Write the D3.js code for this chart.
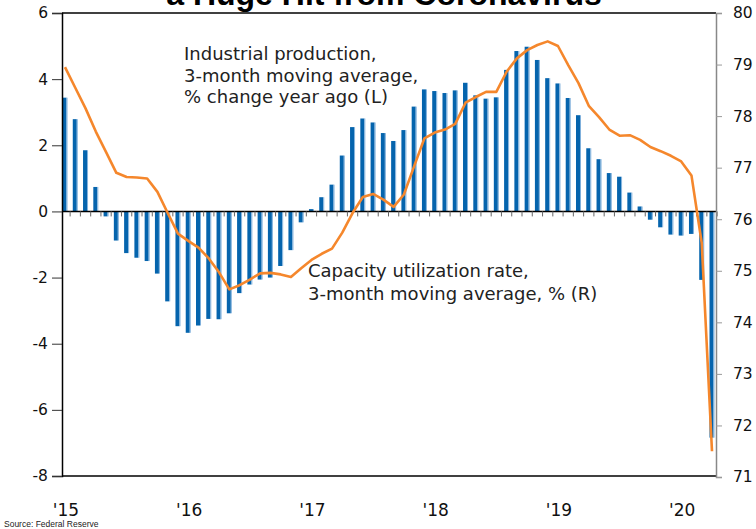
<!DOCTYPE html>
<html lang="en">
<head>
<meta charset="utf-8">
<title>Industrial production and capacity utilization</title>
<script src="https://d3js.org/d3.v7.min.js"></script>
<style>
  body { margin: 0; background: #fff; }
  svg { display: block; font-family: "DejaVu Sans", Verdana, sans-serif; }
</style>
</head>
<body>
<svg id="chart" width="756" height="529"></svg>
<script>
  // monthly, Jan 2015 - Apr 2020
  const months = d3.timeMonth.range(new Date(2015, 0, 1), new Date(2020, 4, 1));

  // industrial production, 3-month moving average, % change year ago (left axis)
  const ipChange = [
    3.44, 2.79, 1.85, 0.74, -0.15, -0.88, -1.26, -1.40, -1.50, -1.88, -2.72, -3.47,
    -3.67, -3.45, -3.25, -3.26, -3.08, -2.47, -2.21, -2.06, -2.00, -1.65, -1.17, -0.33,
    0.07, 0.43, 0.81, 1.69, 2.55, 2.81, 2.69, 2.37, 2.13, 2.46, 3.17, 3.69,
    3.64, 3.58, 3.66, 3.89, 3.51, 3.41, 3.45, 4.28, 4.85, 4.98, 4.58, 4.03,
    3.87, 3.43, 2.91, 1.91, 1.58, 1.16, 1.05, 0.57, 0.15, -0.25, -0.48, -0.70,
    -0.73, -0.68, -2.07, -6.84
  ];

  // capacity utilization rate, 3-month moving average, % (right axis)
  const capUtil = [
    78.95, 78.55, 78.15, 77.70, 77.30, 76.90, 76.82, 76.81, 76.79, 76.53, 76.12, 75.72,
    75.58, 75.45, 75.24, 74.97, 74.64, 74.72, 74.83, 74.95, 74.96, 74.93, 74.88, 75.05,
    75.21, 75.33, 75.43, 75.74, 76.12, 76.43, 76.49, 76.38, 76.24, 76.48, 77.03, 77.57,
    77.68, 77.74, 77.85, 78.26, 78.37, 78.47, 78.47, 78.86, 79.12, 79.28, 79.38, 79.45,
    79.36, 78.99, 78.64, 78.20, 77.98, 77.74, 77.62, 77.63, 77.54, 77.40, 77.32, 77.23,
    77.12, 76.85, 75.54, 71.50
  ];

  const leftTicks = [-8, -6, -4, -2, 0, 2, 4, 6];
  const rightTicks = [71, 72, 73, 74, 75, 76, 77, 78, 79, 80];
  const yearLabels = ["'15", "'16", "'17", "'18", "'19", "'20"];

  const svg = d3.select("#chart");
  const plot = { left: 62, right: 716, top: 13, bottom: 476 };

  const x = d3.scalePoint().domain(months).range([65, 712]);
  const yL = d3.scaleLinear().domain([-8, 6]).range([plot.bottom, plot.top]);
  const yR = d3.scaleLinear().domain([71, 80]).range([plot.bottom + 1, plot.top]);
  const step = x.step();

  const blue = "#0564ad";
  const orange = "#f5872c";

  // title, mostly cut off at the top
  svg.append("text")
    .attr("x", 384).attr("y", 5)
    .attr("text-anchor", "middle")
    .style("font-family", "'Liberation Sans', Arial, sans-serif")
    .style("font-weight", "bold")
    .style("font-size", "32px")
    .text("a Huge Hit from Coronavirus");

  // bars
  const bars = svg.append("g");
  bars.selectAll("rect.bar")
    .data(ipChange)
    .join("rect")
    .attr("class", "bar")
    .attr("x", (d, i) => x(months[i]) - 2.5)
    .attr("width", 4)
    .attr("y", d => Math.min(yL(d), yL(0)))
    .attr("height", d => Math.abs(yL(d) - yL(0)))
    .attr("fill", blue);
  bars.selectAll("rect.edge")
    .data(ipChange)
    .join("rect")
    .attr("class", "edge")
    .attr("x", (d, i) => x(months[i]) + 1.5)
    .attr("width", 1)
    .attr("y", d => Math.min(yL(d), yL(0)))
    .attr("height", d => Math.abs(yL(d) - yL(0)))
    .attr("fill", "#7fb0dc");

  // zero line with month ticks
  svg.append("line")
    .attr("x1", plot.left).attr("x2", plot.right)
    .attr("y1", yL(0)).attr("y2", yL(0))
    .attr("stroke", "#000").attr("stroke-width", 1.5);
  svg.append("g").selectAll("line")
    .data(months)
    .join("line")
    .attr("x1", d => x(d) + step / 2).attr("x2", d => x(d) + step / 2)
    .attr("y1", yL(0)).attr("y2", yL(0) + 5)
    .attr("stroke", "#666").attr("stroke-width", 1);

  // capacity utilization line
  const line = d3.line()
    .x((d, i) => x(months[i]))
    .y(d => yR(d));
  svg.append("path")
    .datum(capUtil)
    .attr("d", line)
    .attr("fill", "none")
    .attr("stroke", orange)
    .attr("stroke-width", 2.6)
    .attr("stroke-linejoin", "round");

  // frame
  svg.append("line")
    .attr("x1", plot.left).attr("x2", plot.right)
    .attr("y1", plot.top).attr("y2", plot.top)
    .attr("stroke", "#000").attr("stroke-width", 1.5);
  svg.append("line")
    .attr("x1", plot.left).attr("x2", plot.right)
    .attr("y1", plot.bottom).attr("y2", plot.bottom)
    .attr("stroke", "#000").attr("stroke-width", 1.5);

  // left axis (plain hyphen minus, like the original)
  const axL = svg.append("g")
    .attr("transform", `translate(${plot.left},0)`)
    .call(d3.axisLeft(yL).tickValues(leftTicks).tickSize(10).tickPadding(4).tickFormat(d => String(d)));
  axL.select(".domain").attr("stroke", "#000").attr("stroke-width", 1.5);
  axL.selectAll(".tick line").attr("stroke", "#333");
  axL.selectAll("text")
    .style("font-family", "'DejaVu Sans', Verdana, sans-serif")
    .style("font-size", "15.5px").attr("fill", "#111");

  // right axis
  const axR = svg.append("g")
    .attr("transform", `translate(${plot.right},0)`)
    .call(d3.axisRight(yR).tickValues(rightTicks).tickSize(6).tickPadding(11));
  axR.select(".domain").attr("stroke", "#888").attr("stroke-width", 1.5);
  axR.selectAll(".tick line").attr("stroke", "#999");
  axR.selectAll("text")
    .style("font-family", "'DejaVu Sans', Verdana, sans-serif")
    .style("font-size", "15.5px").attr("fill", "#111");

  // year labels under January of each year
  const januaries = months.filter(d => d.getMonth() === 0);
  svg.append("g").selectAll("text")
    .data(januaries)
    .join("text")
    .attr("x", d => x(d) + 1)
    .attr("y", 516)
    .attr("text-anchor", "middle")
    .style("font-size", "17px")
    .attr("fill", "#111")
    .text((d, i) => yearLabels[i]);

  // annotations
  const noteIP = ["Industrial production,", "3-month moving average,", "% change year ago (L)"];
  svg.append("text")
    .attr("x", 184).attr("y", 60)
    .style("font-size", "18px").attr("fill", "#222")
    .selectAll("tspan")
    .data(noteIP)
    .join("tspan")
    .attr("x", 184)
    .attr("dy", (d, i) => i === 0 ? 0 : 21.7)
    .text(d => d);

  const noteCU = ["Capacity utilization rate,", "3-month moving average, % (R)"];
  svg.append("text")
    .attr("x", 308).attr("y", 277)
    .style("font-size", "18px").attr("fill", "#222")
    .selectAll("tspan")
    .data(noteCU)
    .join("tspan")
    .attr("x", 308)
    .attr("dy", (d, i) => i === 0 ? 0 : 22.5)
    .text(d => d);

  svg.append("text")
    .attr("x", 4).attr("y", 527)
    .style("font-family", "'Liberation Sans', Arial, sans-serif")
    .style("font-size", "8.5px").attr("fill", "#222")
    .text("Source: Federal Reserve");
</script>
</body>
</html>
